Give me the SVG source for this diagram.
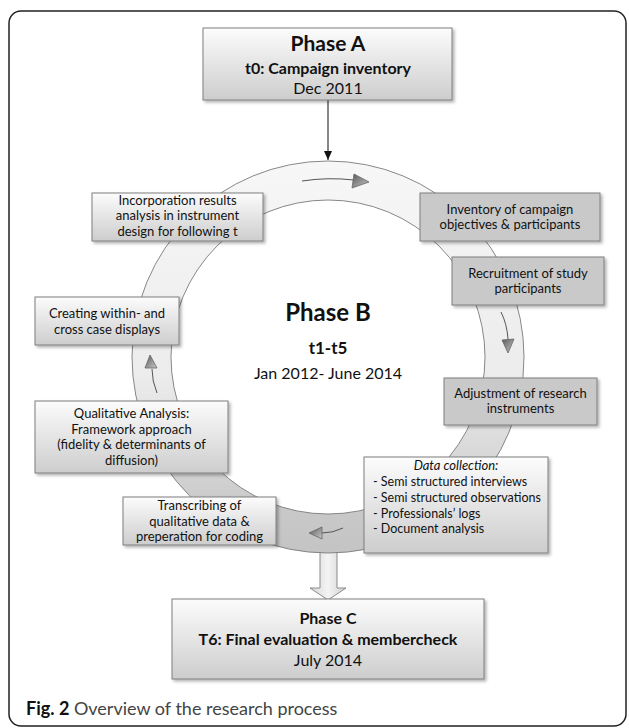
<svg xmlns="http://www.w3.org/2000/svg" width="629" height="728" viewBox="0 0 629 728">
<style>
text{font-family:Lato,"Open Sans","Liberation Sans",sans-serif;fill:#111}
.t{font-size:13px;text-anchor:middle}
.l{font-size:12.5px}
.b{font-weight:bold}
.box{stroke:#7f7f7f;stroke-width:1;filter:url(#sh)}
.g{fill:url(#gBox)}
.d{fill:#c9c9c9}
.sa{fill:none;stroke:#555;stroke-width:1}
.ah{fill:url(#gHead);stroke:#666;stroke-width:0.8}
</style>
<defs>
<filter id="sh" x="-10%" y="-10%" width="130%" height="140%">
<feDropShadow dx="2" dy="2" stdDeviation="1.5" flood-color="#000" flood-opacity="0.3"/>
</filter>
<linearGradient id="gBox" x1="0" y1="0" x2="0" y2="1">
<stop offset="0" stop-color="#fcfcfc"/>
<stop offset="1" stop-color="#cdcdcd"/>
</linearGradient>
<linearGradient id="gRing" gradientUnits="userSpaceOnUse" x1="0" y1="161" x2="0" y2="553">
<stop offset="0" stop-color="#f7f7f7"/>
<stop offset="0.55" stop-color="#ececec"/>
<stop offset="0.75" stop-color="#d8d8d8"/>
<stop offset="0.88" stop-color="#c9c9c9"/>
<stop offset="1" stop-color="#c4c4c4"/>
</linearGradient>
<linearGradient id="gShaft" x1="0" y1="0" x2="1" y2="0">
<stop offset="0" stop-color="#d6d6d6"/>
<stop offset="0.5" stop-color="#f4f4f4"/>
<stop offset="1" stop-color="#d0d0d0"/>
</linearGradient>
<linearGradient id="gHead" x1="0" y1="0" x2="1" y2="1">
<stop offset="0" stop-color="#5a5a5a"/>
<stop offset="1" stop-color="#c8c8c8"/>
</linearGradient>
<marker id="arr" markerWidth="10" markerHeight="10" refX="9" refY="5" orient="auto" markerUnits="userSpaceOnUse">
<path d="M0,1 L9,5 L0,9 Z" fill="#111"/>
</marker>
</defs>

<rect x="9" y="11" width="617" height="715" rx="12" ry="12" fill="#fff" stroke="#222" stroke-width="1.5"/>

<g id="cycle">
<path d="M320,548 L320,588 L310,588 L328,600 L346,588 L337,588 L337,548 Z" fill="url(#gShaft)" stroke="#8a8a8a" stroke-width="1"/>
<path d="M132,357 A196,196 0 1,1 524,357 A196,196 0 1,1 132,357 Z M171,357 A157,157 0 1,0 485,357 A157,157 0 1,0 171,357 Z" fill="url(#gRing)" fill-rule="evenodd" stroke="#7a7a7a" stroke-width="0.9"/>
</g>

<g id="connectors">
<line x1="328" y1="100" x2="328" y2="160" stroke="#111" stroke-width="1" marker-end="url(#arr)"/>
<path class="sa" d="M302,181 Q328,177 354,180"/>
<polygon class="ah" points="369,182 354,174 352,188"/>
<path class="sa" d="M501,312 Q507,324 508,339"/>
<polygon class="ah" points="508,353 502,340 514,339"/>
<path class="sa" d="M343,528 Q333,533 322,533"/>
<polygon class="ah" points="309,533 322,527 322,539"/>
<path class="sa" d="M157,393 Q152,381 152,369"/>
<polygon class="ah" points="150,355 145,368 157,368"/>
</g>

<g id="phaseA">
<rect class="box g" x="203" y="28" width="249" height="72"/>
<text class="b" x="328" y="51" font-size="21" text-anchor="middle">Phase A</text>
<text class="b" x="328" y="74" font-size="16" text-anchor="middle">t0: Campaign inventory</text>
<text x="328" y="94" font-size="16" text-anchor="middle">Dec 2011</text>
</g>

<g id="phaseB">
<text class="b" x="328" y="321" font-size="24" text-anchor="middle">Phase B</text>
<text class="b" x="328" y="354" font-size="17" text-anchor="middle">t1-t5</text>
<text x="328" y="379" font-size="16" text-anchor="middle">Jan 2012- June 2014</text>
</g>

<g id="incorporation">
<rect class="box g" x="92" y="193" width="171" height="48"/>
<text class="t" x="177.5" y="205">Incorporation results</text>
<text class="t" x="177.5" y="220">analysis in instrument</text>
<text class="t" x="177.5" y="236">design for following t</text>
</g>

<g id="inventory">
<rect class="box d" x="420" y="193" width="180" height="48"/>
<text class="t" x="510" y="214">Inventory of campaign</text>
<text class="t" x="510" y="229">objectives &amp; participants</text>
</g>

<g id="recruitment">
<rect class="box d" x="452" y="257" width="152" height="48"/>
<text class="t" x="528" y="278">Recruitment of study</text>
<text class="t" x="528" y="293">participants</text>
</g>

<g id="adjustment">
<rect class="box d" x="444" y="378" width="153" height="47"/>
<text class="t" x="520.5" y="398">Adjustment of research</text>
<text class="t" x="520.5" y="413">instruments</text>
</g>

<g id="datacollection">
<rect class="box g" x="364" y="457" width="184" height="96"/>
<text class="t" x="456" y="470" font-style="italic">Data collection:</text>
<text class="l" x="373" y="486">- Semi structured interviews</text>
<text class="l" x="373" y="502">- Semi structured observations</text>
<text class="l" x="373" y="518">- Professionals’ logs</text>
<text class="l" x="373" y="533">- Document analysis</text>
</g>

<g id="creating">
<rect class="box g" x="35" y="297" width="144" height="48"/>
<text class="t" x="107" y="318">Creating within- and</text>
<text class="t" x="107" y="334">cross case displays</text>
</g>

<g id="qualitative">
<rect class="box g" x="35" y="401" width="193" height="72"/>
<text class="t" x="131.5" y="418">Qualitative Analysis:</text>
<text class="t" x="131.5" y="434">Framework approach</text>
<text class="t" x="131.5" y="449">(fidelity &amp; determinants of</text>
<text class="t" x="131.5" y="465">diffusion)</text>
</g>

<g id="transcribing">
<rect class="box g" x="123" y="497" width="153" height="48"/>
<text class="t" x="199.5" y="510">Transcribing of</text>
<text class="t" x="199.5" y="526">qualitative data &amp;</text>
<text class="t" x="199.5" y="541">preperation for coding</text>
</g>

<g id="phaseC">
<rect class="box g" x="172" y="599" width="312" height="80"/>
<text class="b" x="328" y="624" font-size="16" text-anchor="middle">Phase C</text>
<text class="b" x="328" y="645" font-size="16" text-anchor="middle">T6: Final evaluation &amp; membercheck</text>
<text x="328" y="666" font-size="16" text-anchor="middle">July 2014</text>
</g>

<g id="caption">
<text x="26" y="715" font-size="18"><tspan font-weight="bold" fill="#111">Fig. 2</tspan><tspan fill="#444"> Overview of the research process</tspan></text>
</g>
</svg>
